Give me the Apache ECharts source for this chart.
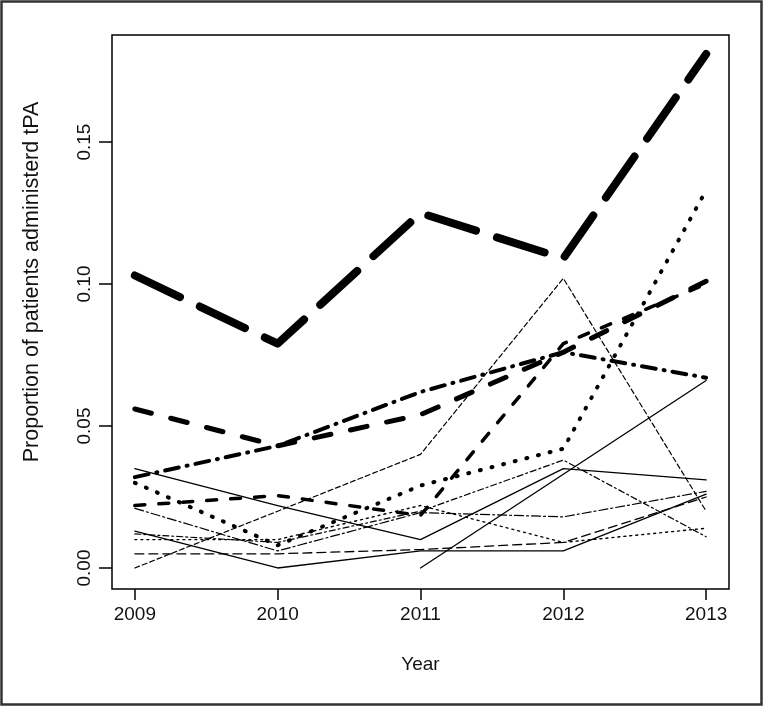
<!DOCTYPE html>
<html>
<head>
<meta charset="utf-8">
<script src="https://cdn.jsdelivr.net/npm/echarts@6/dist/echarts.min.js"></script>
<style>
html,body{margin:0;padding:0;background:#fff;}
#c{width:763px;height:707px;}
</style>
</head>
<body>
<div id="c"></div>
<script>
// ---- data ----
const years = [2009, 2010, 2011, 2012, 2013];
const xTicks = [2009, 2010, 2011, 2012, 2013];
const yTicks = [0, 0.05, 0.10, 0.15];

const s01 = [0.103, 0.079, 0.125, 0.109, 0.181];
const s02 = [0.056, 0.043, 0.054, 0.076, 0.101];
const s03 = [0.032, 0.043, 0.062, 0.076, 0.067];
const s04 = [0.030, 0.008, 0.029, 0.042, 0.133];
const s05 = [0.022, 0.0255, 0.0185, 0.079, 0.100];
const s06 = [0.035, 0.022, 0.010, 0.035, 0.031];
const s07 = [0.013, 0.000, 0.006, 0.006, 0.026];
const s08 = [null, null, 0.000, 0.033, 0.066];
const s09 = [0.000, 0.020, 0.040, 0.102, 0.020];
const s10 = [0.005, 0.005, 0.0065, 0.009, 0.025];
const s11 = [0.021, 0.006, 0.0195, 0.018, 0.027];
const s12 = [0.010, 0.010, 0.022, 0.009, 0.014];
const s13 = [0.012, 0.009, 0.020, 0.038, 0.011];

// ---- styles ----
const styles = [
  {d: s01, w: 8,   t: [50, 22]},
  {d: s02, w: 5,   t: [17, 20]},
  {d: s03, w: 4,   t: [14, 8, 1, 8]},
  {d: s04, w: 4,   t: [1, 11]},
  {d: s05, w: 3.5, t: [10, 14]},
  {d: s06, w: 1.3, t: 'solid'},
  {d: s07, w: 1.3, t: 'solid'},
  {d: s08, w: 1.3, t: 'solid'},
  {d: s09, w: 1.2, t: [5, 3]},
  {d: s10, w: 1.3, t: [9, 5]},
  {d: s11, w: 1.2, t: [9, 3, 2, 3]},
  {d: s12, w: 1.4, t: [2, 4]},
  {d: s13, w: 1.2, t: [6, 3, 2, 3]}
];

const series = styles.map((s, i) => ({
  type: 'line',
  name: 'h' + (i + 1),
  symbol: 'none',
  silent: true,
  z: i < 5 ? 10 : 9,
  connectNulls: false,
  data: years.map((y, k) => s.d[k] == null ? null : [y, s.d[k]]),
  lineStyle: {color: '#000', width: s.w, type: s.t, cap: 'round', join: 'round'}
}));

const font = 'Liberation Sans, Arial, sans-serif';
const chart = echarts.init(document.getElementById('c'), null, {renderer: 'canvas'});
chart.setOption({
  animation: false,
  backgroundColor: '#fff',
  grid: {left: 112, right: 34, top: 35, bottom: 118, show: true, borderColor: '#000', borderWidth: 1.5, backgroundColor: 'transparent'},
  xAxis: {
    type: 'value', min: 2008.84, max: 2013.16,
    name: 'Year', nameLocation: 'middle', nameGap: 66,
    nameTextStyle: {fontFamily: font, fontSize: 19, color: '#111'},
    axisLine: {show: false, onZero: false},
    axisTick: {show: true, length: 11, customValues: xTicks, lineStyle: {color: '#000', width: 1.5}},
    axisLabel: {customValues: xTicks, margin: 16, fontFamily: font, fontSize: 19, color: '#111', formatter: v => String(v)},
    splitLine: {show: false}
  },
  yAxis: {
    type: 'value', min: -0.0074, max: 0.1877,
    name: 'Proportion of patients administerd tPA', nameLocation: 'middle', nameGap: 69, nameRotate: 90,
    nameTextStyle: {fontFamily: font, fontSize: 21.5, color: '#111', padding: [0, 0, 0, 60]},
    axisLine: {show: false, onZero: false},
    axisTick: {show: true, length: 13, customValues: yTicks, lineStyle: {color: '#000', width: 1.5}},
    axisLabel: {customValues: yTicks, rotate: 90, margin: 18, fontFamily: font, fontSize: 19, color: '#111', formatter: v => v.toFixed(2)},
    splitLine: {show: false}
  },
  graphic: [{
    type: 'rect', silent: true, z: 100,
    shape: {x: 1.5, y: 1.5, width: 760, height: 703},
    style: {fill: 'none', stroke: '#333', lineWidth: 2.5}
  }],
  series: series
});
</script>
</body>
</html>
